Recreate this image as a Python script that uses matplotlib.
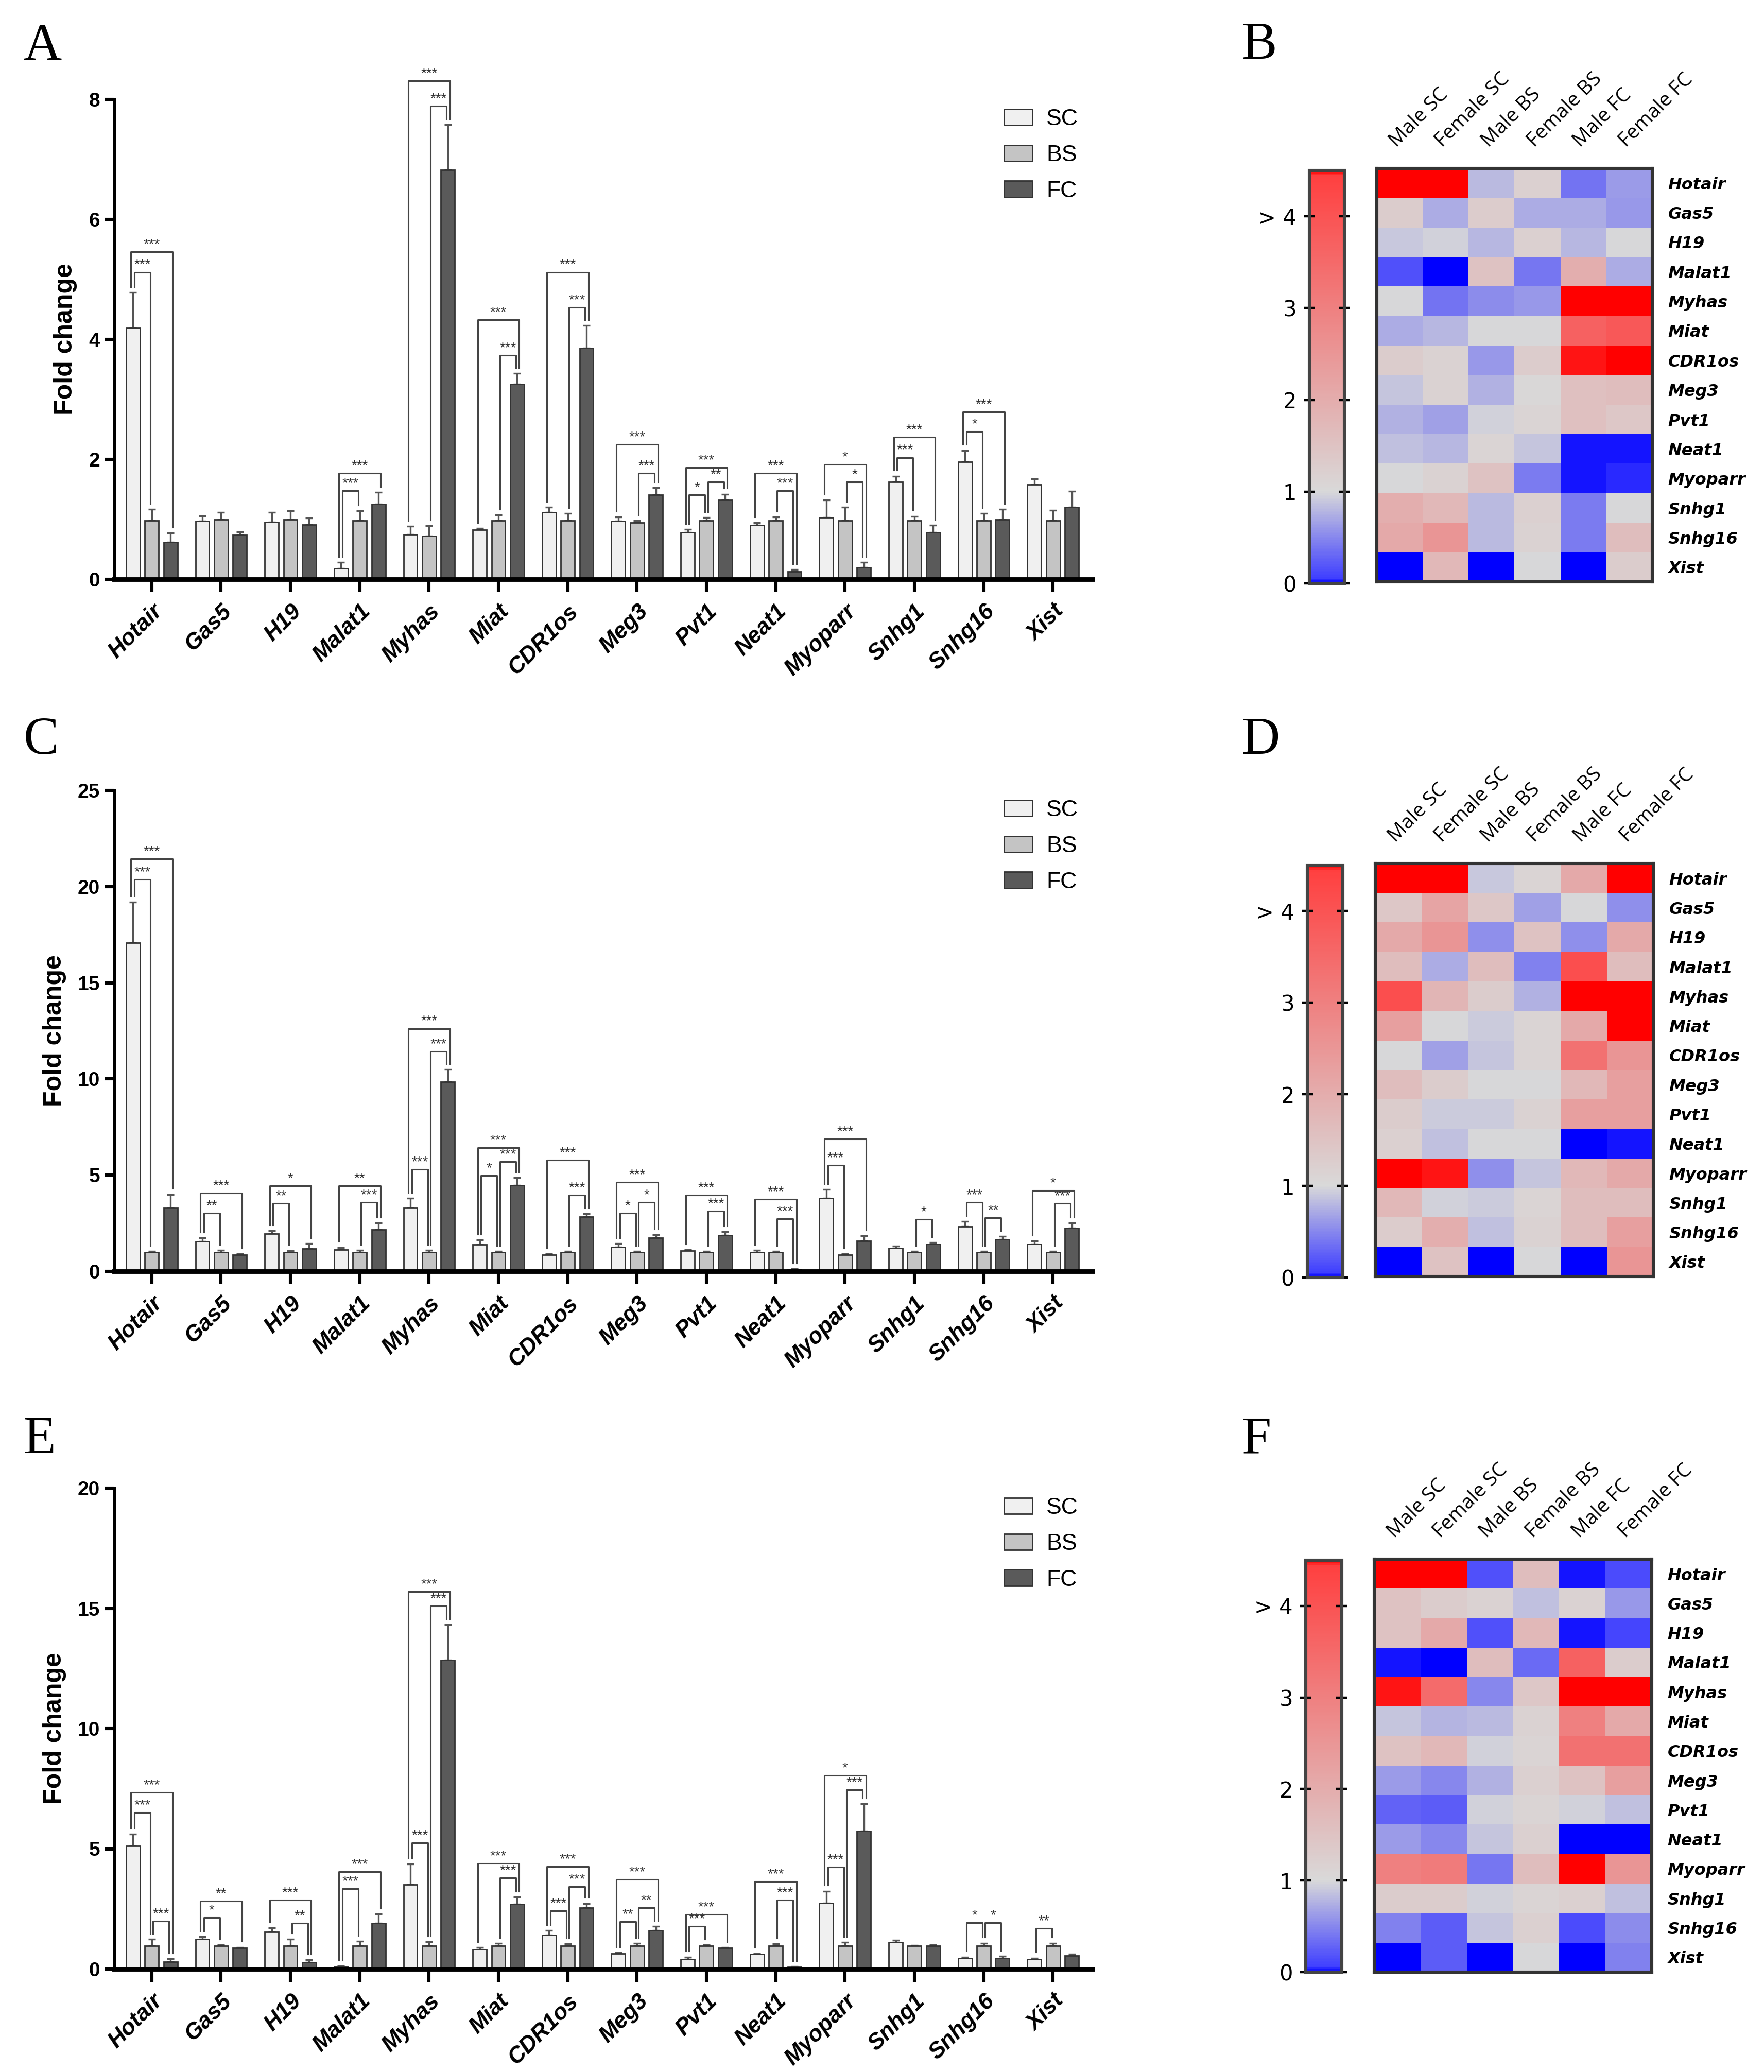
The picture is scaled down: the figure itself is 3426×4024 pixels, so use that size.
import numpy as np
import matplotlib
matplotlib.use('Agg')
import matplotlib.pyplot as plt
from matplotlib.colors import LinearSegmentedColormap, Normalize

plt.rcParams['font.family'] = ['Liberation Sans', 'DejaVu Sans']

genes = ['Hotair', 'Gas5', 'H19', 'Malat1', 'Myhas', 'Miat', 'CDR1os',
         'Meg3', 'Pvt1', 'Neat1', 'Myoparr', 'Snhg1', 'Snhg16', 'Xist']
groups = ['SC', 'BS', 'FC']
heat_cols = ['Male SC', 'Female SC', 'Male BS', 'Female BS', 'Male FC', 'Female FC']

# ---- panel A ----
a_sc = [4.19, 0.97, 0.95, 0.18, 0.75, 0.82, 1.12, 0.97, 0.78, 0.90, 1.03, 1.62, 1.96, 1.58]
a_sc_err = [0.59, 0.09, 0.17, 0.10, 0.13, 0.03, 0.08, 0.07, 0.05, 0.04, 0.29, 0.10, 0.19, 0.09]
a_bs = [0.98, 1.00, 1.00, 0.98, 0.72, 0.98, 0.98, 0.94, 0.98, 0.98, 0.98, 0.98, 0.98, 0.98]
a_bs_err = [0.19, 0.12, 0.14, 0.16, 0.17, 0.09, 0.12, 0.04, 0.05, 0.06, 0.22, 0.07, 0.12, 0.17]
a_fc = [0.62, 0.74, 0.91, 1.25, 6.82, 3.25, 3.85, 1.41, 1.32, 0.13, 0.20, 0.78, 1.00, 1.20]
a_fc_err = [0.15, 0.05, 0.11, 0.20, 0.76, 0.18, 0.38, 0.12, 0.10, 0.03, 0.08, 0.12, 0.17, 0.27]
# (gene, bar1, bar2, height, label)
a_sig = [(0, 0, 1, 5.12, '***'), (0, 0, 2, 5.46, '***'),
         (3, 0, 1, 1.48, '***'), (3, 0, 2, 1.77, '***'),
         (4, 1, 2, 7.89, '***'), (4, 0, 2, 8.31, '***'),
         (5, 1, 2, 3.73, '***'), (5, 0, 2, 4.33, '***'),
         (6, 1, 2, 4.53, '***'), (6, 0, 2, 5.12, '***'),
         (7, 1, 2, 1.77, '***'), (7, 0, 2, 2.25, '***'),
         (8, 0, 1, 1.41, '*'), (8, 1, 2, 1.62, '**'), (8, 0, 2, 1.86, '***'),
         (9, 1, 2, 1.48, '***'), (9, 0, 2, 1.77, '***'),
         (10, 1, 2, 1.62, '*'), (10, 0, 2, 1.91, '*'),
         (11, 0, 1, 2.03, '***'), (11, 0, 2, 2.37, '***'),
         (12, 0, 1, 2.46, '*'), (12, 0, 2, 2.79, '***')]

# ---- panel C ----
c_sc = [17.08, 1.56, 1.96, 1.12, 3.30, 1.40, 0.85, 1.27, 1.07, 1.00, 3.81, 1.20, 2.34, 1.42]
c_sc_err = [2.12, 0.18, 0.16, 0.12, 0.50, 0.23, 0.06, 0.18, 0.05, 0.10, 0.45, 0.10, 0.25, 0.15]
c_bs = [1.0, 1.0, 1.0, 1.0, 1.0, 1.0, 1.0, 1.0, 1.0, 1.0, 0.85, 1.0, 1.0, 1.0]
c_bs_err = [0.05, 0.10, 0.08, 0.10, 0.10, 0.05, 0.05, 0.05, 0.05, 0.05, 0.06, 0.05, 0.05, 0.05]
c_fc = [3.30, 0.85, 1.18, 2.16, 9.86, 4.48, 2.85, 1.74, 1.87, 0.12, 1.58, 1.43, 1.65, 2.25]
c_fc_err = [0.70, 0.06, 0.27, 0.36, 0.64, 0.38, 0.15, 0.16, 0.18, 0.02, 0.27, 0.06, 0.16, 0.27]
c_sig = [(0, 0, 1, 20.36, '***'), (0, 0, 2, 21.43, '***'),
         (1, 0, 1, 3.03, '**'), (1, 0, 2, 4.06, '***'),
         (2, 0, 1, 3.52, '**'), (2, 0, 2, 4.44, '*'),
         (3, 1, 2, 3.59, '***'), (3, 0, 2, 4.44, '**'),
         (4, 0, 1, 5.29, '***'), (4, 1, 2, 11.44, '***'), (4, 0, 2, 12.62, '***'),
         (5, 0, 1, 4.97, '*'), (5, 1, 2, 5.69, '***'), (5, 0, 2, 6.42, '***'),
         (6, 1, 2, 3.95, '***'), (6, 0, 2, 5.78, '***'),
         (7, 0, 1, 3.03, '*'), (7, 1, 2, 3.59, '*'), (7, 0, 2, 4.64, '***'),
         (8, 1, 2, 3.12, '***'), (8, 0, 2, 3.97, '***'),
         (9, 1, 2, 2.74, '***'), (9, 0, 2, 3.75, '***'),
         (10, 0, 1, 5.51, '***'), (10, 0, 2, 6.87, '***'),
         (11, 1, 2, 2.70, '*'),
         (12, 0, 1, 3.59, '***'), (12, 1, 2, 2.79, '**'),
         (13, 1, 2, 3.52, '***'), (13, 0, 2, 4.19, '*')]

# ---- panel E ----
e_sc = [5.11, 1.24, 1.55, 0.10, 3.51, 0.82, 1.42, 0.65, 0.40, 0.62, 2.75, 1.12, 0.45, 0.40]
e_sc_err = [0.49, 0.11, 0.16, 0.03, 0.85, 0.07, 0.18, 0.04, 0.10, 0.03, 0.49, 0.07, 0.05, 0.06]
e_bs = [0.96] * 14
e_bs_err = [0.28, 0.04, 0.29, 0.20, 0.18, 0.10, 0.08, 0.10, 0.05, 0.08, 0.15, 0.03, 0.12, 0.12]
e_fc = [0.29, 0.87, 0.27, 1.91, 12.84, 2.69, 2.55, 1.60, 0.87, 0.08, 5.73, 0.96, 0.45, 0.55]
e_fc_err = [0.13, 0.04, 0.11, 0.38, 1.49, 0.31, 0.18, 0.18, 0.03, 0.02, 1.14, 0.04, 0.08, 0.08]
e_sig = [(0, 0, 1, 6.51, '***'), (0, 1, 2, 2.00, '***'), (0, 0, 2, 7.35, '***'),
         (1, 0, 1, 2.15, '*'), (1, 0, 2, 2.82, '**'),
         (2, 1, 2, 1.91, '**'), (2, 0, 2, 2.87, '***'),
         (3, 0, 1, 3.33, '***'), (3, 0, 2, 4.05, '***'),
         (4, 0, 1, 5.24, '***'), (4, 1, 2, 15.09, '***'), (4, 0, 2, 15.69, '***'),
         (5, 1, 2, 3.78, '***'), (5, 0, 2, 4.38, '***'),
         (6, 0, 1, 2.42, '***'), (6, 1, 2, 3.42, '***'), (6, 0, 2, 4.27, '***'),
         (7, 0, 1, 1.96, '**'), (7, 1, 2, 2.55, '**'), (7, 0, 2, 3.73, '***'),
         (8, 0, 1, 1.78, '***'), (8, 0, 2, 2.27, '***'),
         (9, 1, 2, 2.87, '***'), (9, 0, 2, 3.65, '***'),
         (10, 0, 1, 4.24, '***'), (10, 1, 2, 7.45, '***'), (10, 0, 2, 8.05, '*'),
         (12, 0, 1, 1.93, '*'), (12, 1, 2, 1.93, '*'),
         (13, 0, 1, 1.69, '**')]

# ---- heatmaps (rows = genes, cols = heat_cols) ----
heat_b = [[5.0, 4.55, 0.82, 1.2, 0.37, 0.63],
          [1.27, 0.73, 1.3, 0.73, 0.73, 0.6],
          [0.9, 0.95, 0.8, 1.2, 0.8, 1.0],
          [0.17, 0.0, 1.5, 0.4, 1.96, 0.73],
          [1.0, 0.37, 0.53, 0.6, 5.0, 5.0],
          [0.73, 0.8, 1.0, 1.0, 3.68, 3.9],
          [1.27, 1.16, 0.6, 1.3, 4.47, 4.55],
          [0.88, 1.16, 0.76, 1.05, 1.55, 1.62],
          [0.76, 0.66, 0.95, 1.11, 1.55, 1.39],
          [0.86, 0.8, 1.11, 0.89, 0.02, 0.03],
          [1.0, 1.16, 1.5, 0.43, 0.02, 0.05],
          [1.96, 1.73, 0.82, 1.2, 0.43, 1.0],
          [2.07, 2.53, 0.82, 1.16, 0.43, 1.62],
          [0.0, 1.73, 0.0, 1.0, 0.0, 1.27]]
heat_d = [[5.0, 5.0, 0.9, 1.11, 2.07, 5.0],
          [1.39, 2.19, 1.39, 0.66, 1.0, 0.56],
          [2.07, 2.53, 0.56, 1.5, 0.56, 2.07],
          [1.62, 0.73, 1.62, 0.46, 4.13, 1.62],
          [4.13, 1.8, 1.27, 0.76, 5.0, 5.0],
          [2.3, 1.0, 0.92, 1.11, 2.07, 5.0],
          [1.0, 0.66, 0.89, 1.11, 3.33, 2.53],
          [1.62, 1.27, 1.0, 1.0, 1.73, 2.3],
          [1.27, 0.92, 0.92, 1.16, 2.3, 2.3],
          [1.2, 0.86, 1.0, 1.0, 0.0, 0.02],
          [4.55, 4.47, 0.56, 0.89, 1.73, 2.07],
          [1.73, 0.95, 0.92, 1.11, 1.62, 1.62],
          [1.3, 1.96, 0.86, 1.16, 1.62, 2.3],
          [0.0, 1.5, 0.0, 1.0, 0.0, 2.53]]
heat_f = [[5.0, 5.0, 0.17, 1.62, 0.02, 0.14],
          [1.5, 1.27, 1.16, 0.86, 1.16, 0.6],
          [1.5, 2.07, 0.17, 1.73, 0.02, 0.1],
          [0.02, 0.0, 1.62, 0.33, 3.68, 1.27],
          [4.47, 3.45, 0.5, 1.39, 5.0, 5.0],
          [0.89, 0.79, 0.82, 1.16, 3.0, 2.07],
          [1.5, 1.73, 0.95, 1.11, 3.33, 3.33],
          [0.63, 0.5, 0.76, 1.2, 1.5, 2.3],
          [0.27, 0.24, 0.95, 1.11, 0.95, 0.86],
          [0.63, 0.5, 0.89, 1.2, 0.0, 0.0],
          [3.0, 3.1, 0.4, 1.62, 4.55, 2.53],
          [1.27, 1.27, 0.95, 1.11, 1.2, 0.86],
          [0.46, 0.24, 0.89, 1.2, 0.14, 0.53],
          [0.0, 0.24, 0.0, 1.0, 0.0, 0.46]]

bar_colors = ['#f0f0f0', '#c4c4c4', '#5a5a5a']
offs = [-0.27, 0.0, 0.27]

cmap = LinearSegmentedColormap.from_list(
    'bgr', [(0.0, '#0000ff'), (0.012, '#4040ff'), (1 / 4.5, '#d9d9d9'),
            (0.988, '#ff4040'), (1.0, '#ff0000')])
norm = Normalize(vmin=0, vmax=4.5)

W, H, DPI = 3426, 4024, 200
fig = plt.figure(figsize=(W / DPI, H / DPI), dpi=DPI)


def px_axes(x0, y0, x1, y1):
    return fig.add_axes([x0 / W, 1 - y1 / H, (x1 - x0) / W, (y1 - y0) / H])


def bar_panel(ax, vals, errs, sig, ymax, ystep):
    n = len(genes)
    x = np.arange(n)
    tops = []
    handles = []
    for k in range(3):
        xs = x + offs[k]
        b = ax.bar(xs, vals[k], width=0.2, color=bar_colors[k], edgecolor='#333333',
                   linewidth=1.0, zorder=2)
        ax.errorbar(xs, vals[k], yerr=[np.zeros(n), errs[k]], fmt='none', ecolor='#555555',
                    elinewidth=1.2, capsize=2.5, capthick=1.2, zorder=1.5)
        handles.append(b)
        tops.append(np.array(vals[k]) + np.array(errs[k]))
    gap = 0.012 * ymax
    for g, i, j, hgt, lab in sig:
        d = 0.03 if j - i == 2 else -0.02
        xa = g + offs[i] - d
        xb = g + offs[j] + d
        ya = tops[i][g] + gap
        yb = tops[j][g] + gap
        ax.plot([xa, xa, xb, xb], [ya, hgt, hgt, yb], color='#444444', lw=1.1,
                clip_on=False, zorder=3)
        ax.annotate(lab, ((xa + xb) / 2, hgt), xytext=(0, 0.3), textcoords='offset points',
                    ha='center', va='bottom', fontsize=10, color='#333333',
                    annotation_clip=False)
    ax.set_xlim(-0.54, 13.57)
    ax.set_ylim(0, ymax)
    ax.set_yticks(np.arange(0, ymax + 0.1, ystep))
    ax.set_xticks(x)
    ax.set_xticklabels(genes, rotation=45, ha='right', va='top', rotation_mode='anchor',
                       fontsize=16, weight='bold', style='italic')
    for lab in ax.get_yticklabels():
        lab.set_fontweight('bold')
        lab.set_fontsize(14)
    ax.tick_params(axis='x', length=9, width=2.2, pad=6)
    ax.tick_params(axis='y', length=7, width=2.2, pad=3)
    ax.spines['top'].set_visible(False)
    ax.spines['right'].set_visible(False)
    ax.spines['left'].set_linewidth(2.5)
    ax.spines['bottom'].set_linewidth(3.2)
    ax.set_ylabel('Fold change', fontsize=18, weight='bold', labelpad=8)
    ax.legend(handles, groups, loc='upper left', bbox_to_anchor=(0.9, 1.0), frameon=False,
              fontsize=16, handlelength=1.25, handleheight=0.7, labelspacing=0.65,
              handletextpad=0.6, borderaxespad=0)


def heat_panel(ax, cax, data):
    im = ax.imshow(np.array(data), cmap=cmap, norm=norm, aspect='auto',
                   interpolation='nearest')
    ax.xaxis.tick_top()
    ax.yaxis.tick_right()
    ax.set_xticks(range(len(heat_cols)))
    ax.set_xticklabels(heat_cols, rotation=45, ha='left', va='bottom',
                       rotation_mode='anchor', fontsize=14, family='Open Sans')
    ax.set_yticks(range(len(genes)))
    ax.set_yticklabels(genes, fontsize=11.5, weight='bold', style='italic',
                       family='DejaVu Sans')
    ax.tick_params(length=0)
    ax.tick_params(axis='x', pad=12)
    ax.tick_params(axis='y', pad=11)
    for s in ax.spines.values():
        s.set_linewidth(2.2)
        s.set_edgecolor('#333333')
    cb = fig.colorbar(im, cax=cax, ticks=[0, 1, 2, 3, 4])
    cb.ax.set_yticklabels(['0', '1', '2', '3', '> 4'])
    cb.ax.tick_params(left=True, right=True, labelleft=True, labelright=False,
                      direction='inout', length=8, width=1.6, labelsize=15, pad=5)
    for lab in cb.ax.get_yticklabels():
        lab.set_family('DejaVu Sans')
    cb.outline.set_linewidth(2.2)
    cb.outline.set_edgecolor('#444444')


ax_a = px_axes(222, 193, 2122, 1125)
bar_panel(ax_a, [a_sc, a_bs, a_fc], [a_sc_err, a_bs_err, a_fc_err], a_sig, 8, 2)
ax_c = px_axes(222, 1535, 2122, 2469)
bar_panel(ax_c, [c_sc, c_bs, c_fc], [c_sc_err, c_bs_err, c_fc_err], c_sig, 25, 5)
ax_e = px_axes(222, 2890, 2122, 3824)
bar_panel(ax_e, [e_sc, e_bs, e_fc], [e_sc_err, e_bs_err, e_fc_err], e_sig, 20, 5)

heat_panel(px_axes(2674, 327, 3209, 1130), px_axes(2543, 331, 2611, 1133), heat_b)
heat_panel(px_axes(2671, 1677, 3211, 2479), px_axes(2539, 1680, 2608, 2481), heat_d)
heat_panel(px_axes(2669, 3028, 3208, 3830), px_axes(2536, 3030, 2606, 3830), heat_f)

for letter, lx, ly in [('A', 46, 116), ('B', 2412, 114), ('C', 46, 1464),
                       ('D', 2412, 1464), ('E', 46, 2822), ('F', 2412, 2821)]:
    fig.text(lx / W, 1 - ly / H, letter, family='Liberation Serif', fontsize=37,
             va='baseline', ha='left')

fig.savefig('out.png', dpi=DPI)
